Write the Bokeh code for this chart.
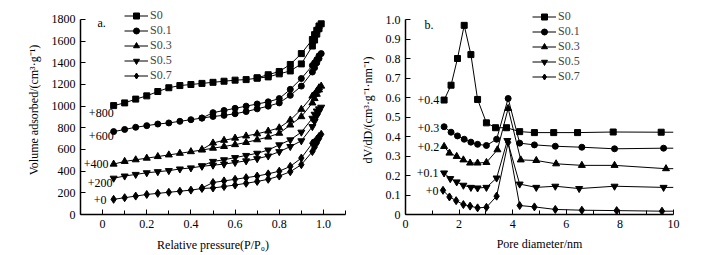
from bokeh.plotting import figure
from bokeh.layouts import row
from bokeh.models import FixedTicker, CustomJSTickFormatter, Legend, LegendItem, Label, Range1d
from bokeh.embed import file_html
from bokeh.resources import INLINE

FONT = "Liberation Serif"

series_names = ["S0", "S0.1", "S0.3", "S0.5", "S0.7"]
markers = ["square", "circle", "triangle", "inverted_triangle", "diamond"]
marker_sizes = [6, 6, 7, 7, 8]

# ---- Panel a: N2 isotherms (with offsets already included) ----
p_ads = [0.05, 0.10, 0.15, 0.20, 0.25, 0.30, 0.35, 0.40, 0.45, 0.50, 0.55, 0.60,
         0.65, 0.70, 0.75, 0.80, 0.85, 0.90, 0.95, 0.96, 0.97, 0.98, 0.99]
s0_ads = [1005, 1030, 1065, 1095, 1135, 1170, 1190, 1200, 1210, 1220, 1230, 1240,
          1245, 1258, 1270, 1298, 1325, 1390, 1555, 1610, 1665, 1715, 1760]
s01_ads = [765, 785, 805, 820, 835, 845, 860, 875, 890, 905, 915, 930,
           950, 975, 1000, 1030, 1100, 1185, 1315, 1355, 1400, 1440, 1485]
s03_ads = [465, 490, 505, 520, 535, 550, 565, 580, 595, 612, 628, 645,
           665, 690, 715, 750, 826, 903, 1030, 1070, 1110, 1150, 1185]
s05_ads = [335, 355, 370, 385, 395, 405, 420, 430, 445, 455, 465, 480,
           495, 515, 540, 580, 627, 680, 811, 860, 910, 950, 990]
s07_ads = [140, 155, 170, 185, 195, 205, 215, 225, 240, 245, 258, 272,
           288, 305, 325, 355, 395, 460, 581, 620, 660, 700, 740]

p_des_s0 = [0.98, 0.97, 0.96, 0.95, 0.90, 0.85, 0.80, 0.75, 0.70]
s0_des = [1740, 1700, 1660, 1615, 1485, 1385, 1320, 1290, 1262]
p_des = [0.98, 0.97, 0.96, 0.95, 0.90, 0.85, 0.80, 0.75, 0.70, 0.65, 0.60, 0.55, 0.50, 0.45]
s01_des = [1465, 1430, 1400, 1375, 1255, 1155, 1070, 1040, 1020, 1000, 980, 960, 940, 890]
s03_des = [1170, 1140, 1110, 1093, 971, 872, 800, 770, 745, 725, 705, 685, 660, 600]
s05_des = [975, 955, 925, 888, 760, 689, 643, 595, 565, 545, 525, 505, 490, 450]
s07_des = [720, 695, 670, 658, 521, 444, 400, 375, 355, 340, 325, 310, 295, 245]

iso_ads = [s0_ads, s01_ads, s03_ads, s05_ads, s07_ads]
iso_des = [s0_des, s01_des, s03_des, s05_des, s07_des]
iso_des_x = [p_des_s0, p_des, p_des, p_des, p_des]
offsets_a = ["+800", "+600", "+400", "+200", "+0"]

# ---- Panel b: pore size distribution ----
d_s0 = [1.44, 1.70, 1.94, 2.19, 2.44, 2.69, 3.02, 3.36, 3.77, 4.26, 4.81, 5.53, 6.42, 7.75, 9.54]
v_s0 = [0.587, 0.663, 0.80, 0.97, 0.82, 0.59, 0.47, 0.445, 0.445, 0.425, 0.42, 0.42, 0.42, 0.423, 0.422]
d_s01 = [1.44, 1.70, 1.94, 2.19, 2.44, 2.69, 3.02, 3.40, 3.83, 4.26, 4.81, 5.59, 6.58, 7.80, 9.63]
v_s01 = [0.45, 0.422, 0.403, 0.386, 0.371, 0.36, 0.354, 0.386, 0.595, 0.366, 0.357, 0.35, 0.345, 0.337, 0.34]
d_s03 = [1.44, 1.64, 1.91, 2.16, 2.41, 2.69, 3.02, 3.43, 3.83, 4.30, 4.88, 5.62, 6.58, 7.80, 9.72]
v_s03 = [0.349, 0.315, 0.298, 0.28, 0.264, 0.264, 0.267, 0.332, 0.544, 0.28, 0.277, 0.26, 0.252, 0.252, 0.235]
d_s05 = [1.44, 1.67, 1.91, 2.16, 2.44, 2.69, 3.02, 3.40, 3.80, 4.26, 4.88, 5.59, 6.48, 7.80, 9.63]
v_s05 = [0.213, 0.184, 0.167, 0.15, 0.139, 0.136, 0.139, 0.187, 0.379, 0.156, 0.139, 0.145, 0.133, 0.145, 0.139]
d_s07 = [1.40, 1.64, 1.89, 2.16, 2.41, 2.69, 3.02, 3.40, 3.83, 4.26, 4.81, 5.59, 6.58, 7.88, 9.57]
v_s07 = [0.124, 0.09, 0.071, 0.051, 0.043, 0.034, 0.037, 0.094, 0.37, 0.046, 0.039, 0.026, 0.022, 0.02, 0.017]
d_end = 10.0
v_end = [0.422, 0.34, 0.235, 0.139, 0.017]

psd_d = [d_s0, d_s01, d_s03, d_s05, d_s07]
psd_v = [v_s0, v_s01, v_s03, v_s05, v_s07]
offsets_b = ["+0.4", "+0.3", "+0.2", "+0.1", "+0"]

a_ticks = [0, 0.2, 0.4, 0.6, 0.8, 1.0]
a_minor = [-0.1, 0.1, 0.3, 0.5, 0.7, 0.9, 1.1]
a_yticks = [0, 200, 400, 600, 800, 1000, 1200, 1400, 1600, 1800]
b_ticks = [0, 2, 4, 6, 8, 10]
b_minor = [1, 3, 5, 7, 9]
b_yticks = [0, 0.1, 0.2, 0.3, 0.4, 0.5, 0.6, 0.7, 0.8, 0.9, 1.0]

fmt = CustomJSTickFormatter(code="return tick == 0 ? '0' : tick.toFixed(1);")


def style(p):
    p.outline_line_color = None
    p.xgrid.visible = False
    p.ygrid.visible = False
    p.background_fill_color = "white"
    p.border_fill_color = "white"
    for ax in (p.xaxis[0], p.yaxis[0]):
        ax.axis_line_width = 1.5
        ax.axis_line_color = "black"
        ax.major_tick_in = 5
        ax.major_tick_out = 0
        ax.minor_tick_in = 4
        ax.minor_tick_out = 0
        ax.major_tick_line_width = 1
        ax.minor_tick_line_width = 1
        ax.major_label_text_font = FONT
        ax.major_label_text_font_size = "12px"
        ax.major_label_text_color = "black"
        ax.axis_label_text_font = FONT
        ax.axis_label_text_font_size = "12px"
        ax.axis_label_text_font_style = "normal"
        ax.axis_label_text_color = "black"
        ax.major_label_standoff = 5
    p.yaxis[0].minor_tick_in = 0


def make_legend(p, items, x, y):
    leg = Legend(items=items, location=(x, y), border_line_color=None,
                 background_fill_alpha=0, padding=0, margin=0, spacing=0,
                 glyph_width=24, glyph_height=15, label_height=15,
                 label_standoff=2, label_text_font=FONT,
                 label_text_font_size="12px")
    p.add_layout(leg, "center")


# Panel a
p1 = figure(width=357, height=255, output_backend="svg", toolbar_location=None,
            x_range=Range1d(-0.1, 1.1), y_range=Range1d(0, 1929),
            min_border_left=80, min_border_right=12, min_border_top=5, min_border_bottom=40)
style(p1)
p1.xaxis[0].ticker = FixedTicker(ticks=a_ticks, minor_ticks=a_minor)
p1.xaxis[0].formatter = fmt
p1.yaxis[0].ticker = FixedTicker(ticks=a_yticks)
p1.yaxis[0].bounds = (0, 1800)
p1.xaxis[0].axis_label = "Relative pressure(P/P\u2080)"
p1.yaxis[0].axis_label = "Volume adsorbed/(cm\u00b3\u00b7g\u207b\u00b9)"
p1.xaxis[0].axis_label_standoff = 7
p1.yaxis[0].axis_label_standoff = 8

items1 = []
for name, mk, ms, ads, desx, des in zip(series_names, markers, marker_sizes, iso_ads, iso_des_x, iso_des):
    xs = p_ads + desx
    ys = ads + des
    r1 = p1.line(xs, ys, line_color="black", line_width=1)
    r2 = p1.scatter(xs, ys, marker=mk, size=ms, fill_color="black", line_color="black")
    items1.append(LegendItem(label=name, renderers=[r1, r2]))
make_legend(p1, items1, 44, 131)

a_lab_pos = [(0.05, 937), (0.05, 725), (0.027, 468), (0.045, 294), (0.018, 138)]
for txt, (lx, ly) in zip(offsets_a, a_lab_pos):
    p1.add_layout(Label(x=lx, y=ly, text=txt, text_align="right", text_baseline="middle",
                        text_font=FONT, text_font_size="12px", text_color="black"))
p1.add_layout(Label(x=-0.023, y=1763, text="a.", text_align="left", text_baseline="middle",
                    text_font=FONT, text_font_size="12px", text_color="black"))

# Panel b
p2 = figure(width=358, height=255, output_backend="svg", toolbar_location=None,
            x_range=Range1d(0, 10), y_range=Range1d(0, 1.0718),
            min_border_left=47, min_border_right=42, min_border_top=5, min_border_bottom=41)
style(p2)
p2.xaxis[0].ticker = FixedTicker(ticks=b_ticks, minor_ticks=b_minor)
p2.yaxis[0].ticker = FixedTicker(ticks=b_yticks)
p2.yaxis[0].formatter = fmt
p2.yaxis[0].bounds = (0, 1.0)
p2.xaxis[0].axis_label = "Pore diameter/nm"
p2.yaxis[0].axis_label = "dV/dD/(cm\u00b3\u00b7g\u207b\u00b9\u00b7nm\u207b\u00b9)"
p2.xaxis[0].axis_label_standoff = 6
p2.yaxis[0].axis_label_standoff = 8

items2 = []
for name, mk, ms, dd, vv, ve in zip(series_names, markers, marker_sizes, psd_d, psd_v, v_end):
    r1 = p2.line(dd + [d_end], vv + [ve], line_color="black", line_width=1)
    r2 = p2.scatter(dd, vv, marker=mk, size=ms, fill_color="black", line_color="black")
    items2.append(LegendItem(label=name, renderers=[r1, r2]))
make_legend(p2, items2, 127, 130)

b_lab_pos = [(1.26, 0.585), (1.26, 0.446), (1.26, 0.344), (1.23, 0.215), (1.23, 0.118)]
for txt, (lx, ly) in zip(offsets_b, b_lab_pos):
    p2.add_layout(Label(x=lx, y=ly, text=txt, text_align="right", text_baseline="middle",
                        text_font=FONT, text_font_size="12px", text_color="black"))
p2.add_layout(Label(x=0.71, y=0.97, text="b.", text_align="left", text_baseline="middle",
                    text_font=FONT, text_font_size="12px", text_color="black"))

layout = row(p1, p2)
open("out.html", "w").write(file_html(layout, INLINE))
